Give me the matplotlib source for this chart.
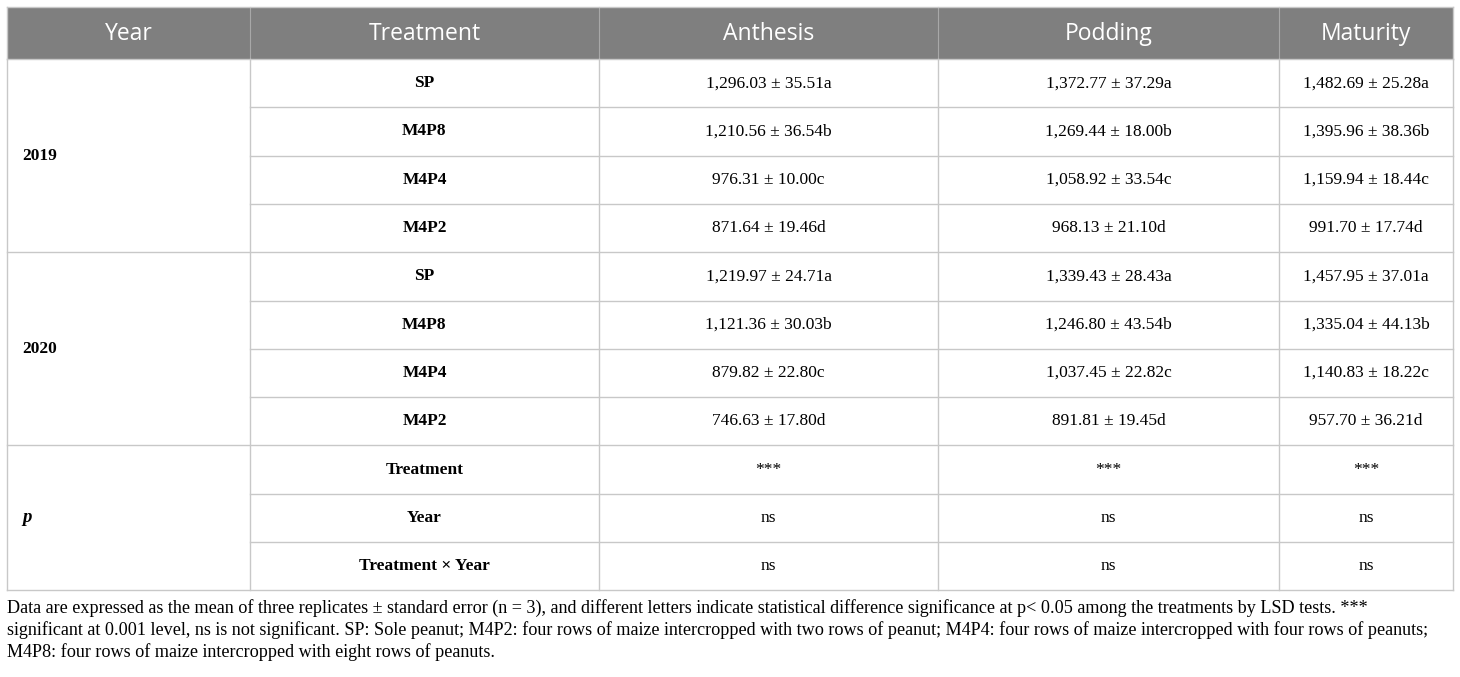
import matplotlib
matplotlib.use("Agg")
import matplotlib.pyplot as plt
from matplotlib.patches import Rectangle

# table data
headers = ["Year", "Treatment", "Anthesis", "Podding", "Maturity"]
years = ["2019", "2020"]
treatments = ["SP", "M4P8", "M4P4", "M4P2"]
anthesis = ["1,296.03 ± 35.51a", "1,210.56 ± 36.54b", "976.31 ± 10.00c", "871.64 ± 19.46d",
            "1,219.97 ± 24.71a", "1,121.36 ± 30.03b", "879.82 ± 22.80c", "746.63 ± 17.80d"]
podding = ["1,372.77 ± 37.29a", "1,269.44 ± 18.00b", "1,058.92 ± 33.54c", "968.13 ± 21.10d",
           "1,339.43 ± 28.43a", "1,246.80 ± 43.54b", "1,037.45 ± 22.82c", "891.81 ± 19.45d"]
maturity = ["1,482.69 ± 25.28a", "1,395.96 ± 38.36b", "1,159.94 ± 18.44c", "991.70 ± 17.74d",
            "1,457.95 ± 37.01a", "1,335.04 ± 44.13b", "1,140.83 ± 18.22c", "957.70 ± 36.21d"]
p_terms = ["Treatment", "Year", "Treatment × Year"]
p_anthesis = ["***", "ns", "ns"]
p_podding = ["***", "ns", "ns"]
p_maturity = ["***", "ns", "ns"]
footnote = [
    "Data are expressed as the mean of three replicates ± standard error (n = 3), and different letters indicate statistical difference significance at p< 0.05 among the treatments by LSD tests. ***",
    "significant at 0.001 level, ns is not significant. SP: Sole peanut; M4P2: four rows of maize intercropped with two rows of peanut; M4P4: four rows of maize intercropped with four rows of peanuts;",
    "M4P8: four rows of maize intercropped with eight rows of peanuts.",
]

W, H = 1460, 677
fig = plt.figure(figsize=(W / 100, H / 100), dpi=100)
ax = fig.add_axes([0, 0, 1, 1])
ax.set_xlim(0, W)
ax.set_ylim(H, 0)
ax.axis("off")

col_x = [7, 250, 599, 938, 1279, 1453]
head_top, head_bot = 7, 59
row_h = 48.3
n_rows = 11
row_y = [head_bot + i * row_h for i in range(n_rows + 1)]
line_c = "#c8c8c8"
serif = "Liberation Serif"
sans = "Open Sans"

# header
ax.add_patch(Rectangle((col_x[0], head_top), col_x[-1] - col_x[0], head_bot - head_top,
                       facecolor="#7f7f7f", edgecolor="none"))
for i, h in enumerate(headers):
    ax.text((col_x[i] + col_x[i + 1]) / 2, (head_top + head_bot) / 2 + 1, h, color="white",
            family=sans, fontsize=16.5, ha="center", va="center")
for x in col_x[1:-1]:
    ax.plot([x, x], [head_top, head_bot], color="#a8a8a8", lw=0.8)

# grid lines
ax.plot([col_x[0], col_x[-1]], [head_top, head_top], color=line_c, lw=1)
for i, y in enumerate(row_y):
    x0 = col_x[0] if i in (0, 4, 8, 11) else col_x[1]
    ax.plot([x0, col_x[-1]], [y, y], color=line_c, lw=1)
for x in col_x:
    ax.plot([x, x], [head_bot, row_y[-1]], color=line_c, lw=1)
for x in (col_x[0], col_x[-1]):
    ax.plot([x, x], [head_top, head_bot], color=line_c, lw=1)

# body
body_fs = 12.5
cols = [anthesis, podding, maturity]
for g, yr in enumerate(years):
    yc = (row_y[g * 4] + row_y[g * 4 + 4]) / 2
    ax.text(col_x[0] + 15, yc, yr, family=serif, fontsize=body_fs, weight="bold",
            ha="left", va="center")
    for k, t in enumerate(treatments):
        r = g * 4 + k
        ym = (row_y[r] + row_y[r + 1]) / 2
        ax.text((col_x[1] + col_x[2]) / 2, ym, t, family=serif, fontsize=body_fs,
                weight="bold", ha="center", va="center")
        for c, vals in enumerate(cols):
            ax.text((col_x[c + 2] + col_x[c + 3]) / 2, ym, vals[r], family=serif,
                    fontsize=body_fs, ha="center", va="center")

yc = (row_y[8] + row_y[11]) / 2
ax.text(col_x[0] + 15, yc, "p", family=serif, fontsize=body_fs + 1, weight="bold",
        style="italic", ha="left", va="center")
pcols = [p_anthesis, p_podding, p_maturity]
for k, t in enumerate(p_terms):
    r = 8 + k
    ym = (row_y[r] + row_y[r + 1]) / 2
    ax.text((col_x[1] + col_x[2]) / 2, ym, t, family=serif, fontsize=body_fs,
            weight="bold", ha="center", va="center")
    for c, vals in enumerate(pcols):
        ax.text((col_x[c + 2] + col_x[c + 3]) / 2, ym, vals[k], family=serif,
                fontsize=body_fs, ha="center", va="center")

for i, line in enumerate(footnote):
    ax.text(col_x[0], 608 + i * 22, line, family=serif, fontsize=13.1, ha="left", va="center")

fig.savefig("out.png", dpi=100)
